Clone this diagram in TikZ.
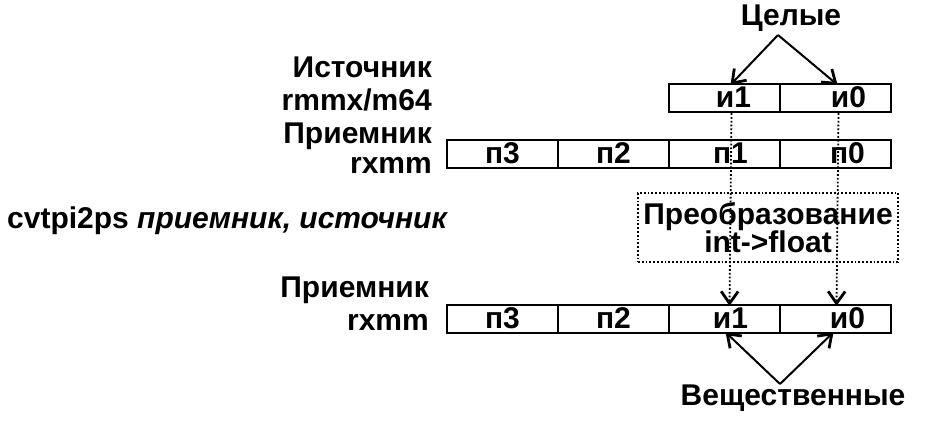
\documentclass[tikz,border=0pt]{standalone}
\usepackage{fontspec}
\setmainfont{Liberation Sans}
\usetikzlibrary{arrows.meta}
\begin{document}
\begin{tikzpicture}[x=1pt,y=-1pt,
  every node/.style={font=\fontsize{30}{32}\selectfont\bfseries, inner sep=0pt},
  cell/.style={draw, line width=2.4pt, minimum width=111pt, minimum height=28pt, text height=20pt, text depth=1pt},
  lbl/.style={anchor=base east},
  barb/.tip={Straight Barb[length=12pt,width=17pt,line width=2.8pt]},
  tip/.style={-barb, line width=2pt},
  dotline/.style={dotted, line width=1.8pt, -barb}
]
\useasboundingbox (0,0) rectangle (947,429);
% source row
\node[cell] (s1) at (724.5,98) {\hspace*{18pt}и1};
\node[cell] (s0) at (835.5,98) {\hspace*{26pt}и0};
% destination row
\node[cell] (d3) at (502.5,154) {п3};
\node[cell] (d2) at (613.5,154) {п2};
\node[cell] (d1) at (724.5,154) {\hspace*{12pt}п1};
\node[cell] (d0) at (835.5,154) {\hspace*{24pt}п0};
% result row
\node[cell] (r3) at (502.5,319) {п3};
\node[cell] (r2) at (613.5,319) {п2};
\node[cell] (r1) at (724.5,319) {\hspace*{12pt}и1};
\node[cell] (r0) at (835.5,319) {\hspace*{24pt}и0};
% labels
\node[lbl] (l1) at (432,77) {Источник};
\node[lbl] (l2) at (432,110) {rmmx/m64};
\node[lbl] (l3) at (432,143) {Приемник};
\node[lbl] (l4) at (432,173) {rxmm};
\node[anchor=base west] (cmd) at (7,228) {cvtpi2ps \textit{приемник, источник}};
\node[lbl] (l5) at (429,297) {Приемник};
\node[lbl] (l6) at (429,330) {rxmm};
% conversion box
\node[draw, dotted, line width=1.8pt, minimum width=260pt, minimum height=69pt, align=center] (conv) at (768,227.5) {Преобразование\\[-4pt]int->float};
% labels top/bottom
\node (int) at (791,18) {Целые};
\node (real) at (793,398) {Вещественные};
\coordinate (ta) at (778,35);
\coordinate (ba) at (780,384);
\draw[tip] (ta) -- ([xshift=6pt,yshift=-2pt]s1.north);
\draw[tip] (ta) -- ([xshift=2pt,yshift=-2pt]s0.north);
\draw[tip] (ba) -- ([xshift=1pt,yshift=2pt]r1.south);
\draw[tip] (ba) -- ([xshift=-2pt,yshift=2pt]r0.south);
\draw[dotline] ([xshift=7pt]s1.south) -- ([xshift=5pt,yshift=-2pt]r1.north);
\draw[dotline] ([xshift=3pt]s0.south) -- ([xshift=1pt,yshift=-2pt]r0.north);
\end{tikzpicture}
\end{document}
